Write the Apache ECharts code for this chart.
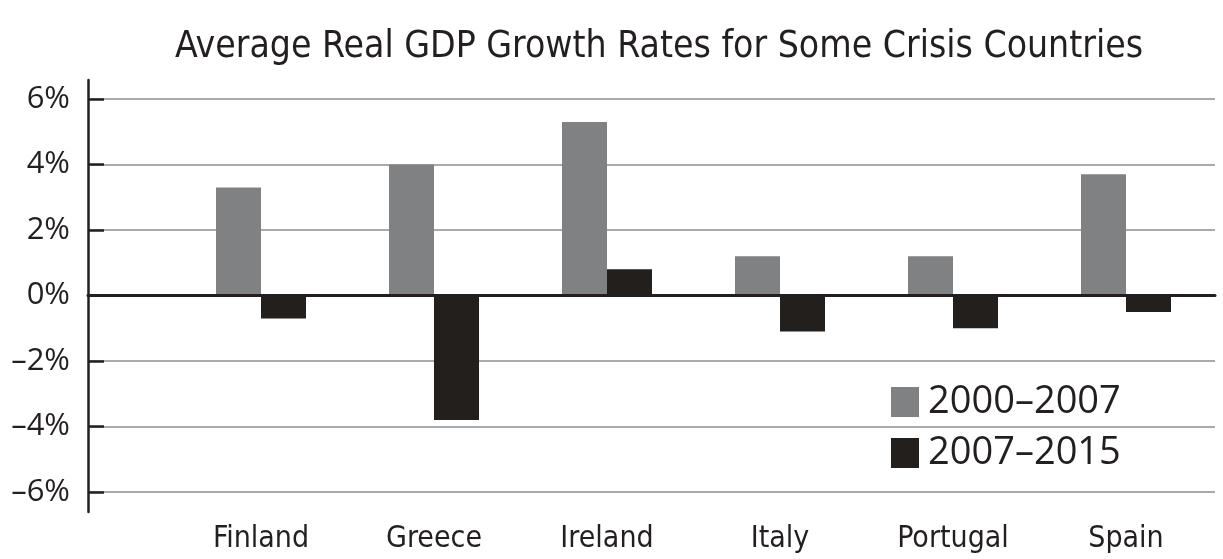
<!DOCTYPE html>
<html>
<head>
<meta charset="utf-8">
<script src="https://cdn.jsdelivr.net/npm/echarts@6/dist/echarts.min.js"></script>
<style>
html,body{margin:0;padding:0;background:#fff;}
#main{width:1223px;height:559px;}
</style>
</head>
<body>
<div id="main"></div>
<script>
var countries = ['Finland', 'Greece', 'Ireland', 'Italy', 'Portugal', 'Spain'];
var growth0007 = [3.3, 4.0, 5.3, 1.2, 1.2, 3.7];
var growth0715 = [-0.7, -3.8, 0.8, -1.1, -1.0, -0.5];
var seriesNames = ['2000\u20132007', '2007\u20132015'];
var yMin = -6, yMax = 6, yStep = 2;

var fontFam = "'Liberation Sans Narrow', 'DejaVu Sans Condensed', 'Open Sans', sans-serif";
var chart = echarts.init(document.getElementById('main'));

//负号换成短横线
function fmtPct(v){
    var s = Math.abs(v) + '%';
    return v < 0 ? '\u2013' + s : s;
}

chart.setOption({
    backgroundColor: '#fff',
    animation: false,
    title: {
        text: 'Average Real GDP Growth Rates for Some Crisis Countries',
        left: 170,
        top: 24,
        textStyle: { fontFamily: fontFam, fontSize: 37, fontWeight: 'normal', color: '#231f20' }
    },
    legend: {
        orient: 'vertical',
        left: 886,
        top: 378,
        itemWidth: 28,
        itemHeight: 30,
        itemGap: 13,
        icon: 'rect',
        data: seriesNames,
        textStyle: { fontFamily: "'Open Sans', sans-serif", fontSize: 38, color: '#231f20', padding: [0, 0, 0, 4] }
    },
    grid: [
        { left: 88, right: 8, top: 80, bottom: 47 },
        { left: 88, right: 8, top: 99, bottom: 67 },
        { left: 174.5, right: 10.5, top: 99, bottom: 67 }
    ],
    xAxis: [
        { gridIndex: 0, type: 'value', show: false },
        {
            gridIndex: 1, type: 'value', min: 0, max: 1, z: 5,
            axisLine: { show: true, onZero: true, lineStyle: { color: '#231f20', width: 3 } },
            axisTick: { show: false }, axisLabel: { show: false }, splitLine: { show: false }
        },
        {
            gridIndex: 2, type: 'category', data: countries,
            axisLine: { show: false, onZero: false }, axisTick: { show: false },
            axisLabel: { margin: 32, fontFamily: fontFam, fontSize: 30, color: '#231f20' }
        }
    ],
    yAxis: [
        {
            gridIndex: 0, type: 'value', min: 0, max: 1,
            axisLine: { show: true, lineStyle: { color: '#231f20', width: 2.5 } },
            axisTick: { show: false }, axisLabel: { show: false }, splitLine: { show: false }
        },
        {
            gridIndex: 1, type: 'value', min: yMin, max: yMax, interval: yStep,
            axisLine: { show: false },
            axisTick: { show: true, inside: true, length: 16, lineStyle: { color: '#231f20', width: 2.5 } },
            axisLabel: { margin: 18, fontFamily: "'Open Sans', sans-serif", fontSize: 31, color: '#231f20', formatter: fmtPct },
            splitLine: { show: true, lineStyle: { color: '#aaaaaa', width: 2 } }
        },
        {
            gridIndex: 2, type: 'value', min: yMin, max: yMax, interval: yStep, show: false
        }
    ],
    series: [
        {
            name: seriesNames[0], type: 'bar', xAxisIndex: 2, yAxisIndex: 2,
            barWidth: 45, barGap: '0%', data: growth0007,
            itemStyle: { color: '#808182' }
        },
        {
            name: seriesNames[1], type: 'bar', xAxisIndex: 2, yAxisIndex: 2,
            barWidth: 45, barGap: '0%', data: growth0715,
            itemStyle: { color: '#231f1d' }
        }
    ]
});
</script>
</body>
</html>
